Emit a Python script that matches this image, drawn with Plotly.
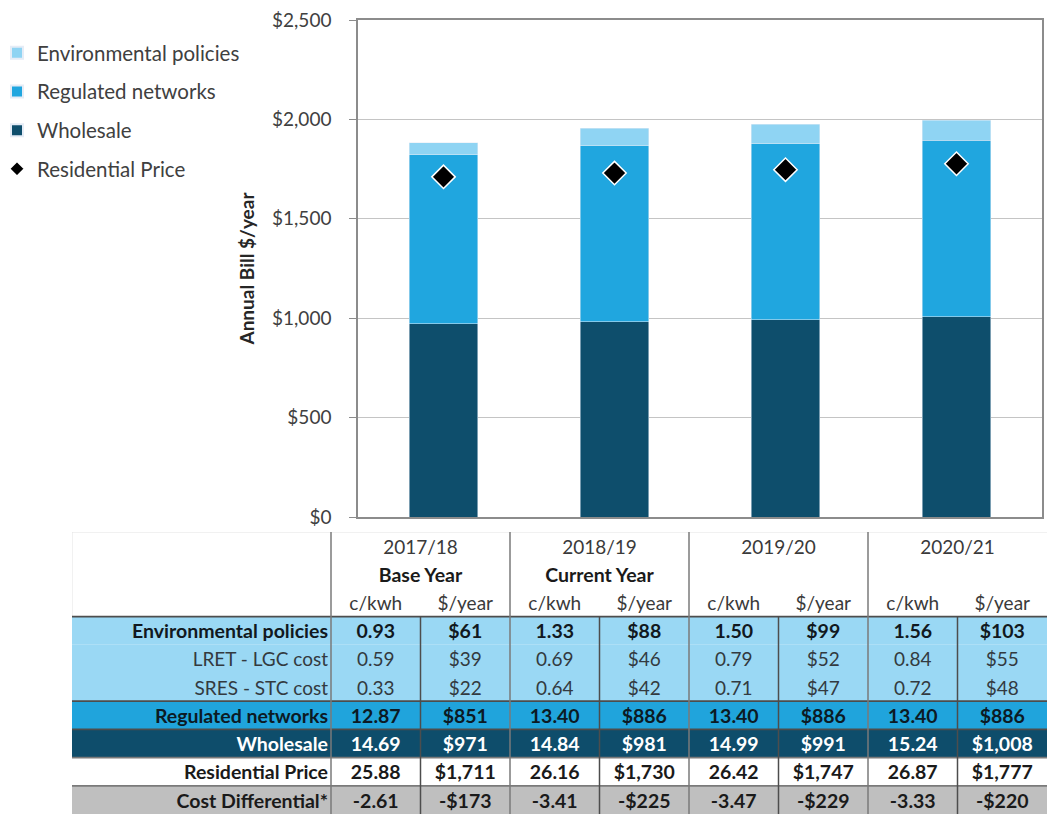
import plotly.graph_objects as go

# ---------------- data ----------------
years = ["2017/18", "2018/19", "2019/20", "2020/21"]
year_notes = ["Base Year", "Current Year", "", ""]
unit_labels = ["c/kwh", "$/year"]
row_labels = ["Environmental policies", "LRET - LGC cost", "SRES - STC cost",
              "Regulated networks", "Wholesale", "Residential Price", "Cost Differential*"]

env_ckwh = [0.93, 1.33, 1.50, 1.56]
env_year = [61, 88, 99, 103]
lret_ckwh = [0.59, 0.69, 0.79, 0.84]
lret_year = [39, 46, 52, 55]
sres_ckwh = [0.33, 0.64, 0.71, 0.72]
sres_year = [22, 42, 47, 48]
net_ckwh = [12.87, 13.40, 13.40, 13.40]
net_year = [851, 886, 886, 886]
whs_ckwh = [14.69, 14.84, 14.99, 15.24]
whs_year = [971, 981, 991, 1008]
res_ckwh = [25.88, 26.16, 26.42, 26.87]
res_year = [1711, 1730, 1747, 1777]
diff_ckwh = [-2.61, -3.41, -3.47, -3.33]
diff_year = [-173, -225, -229, -220]

table_rows = [
    (env_ckwh, env_year), (lret_ckwh, lret_year), (sres_ckwh, sres_year),
    (net_ckwh, net_year), (whs_ckwh, whs_year), (res_ckwh, res_year),
    (diff_ckwh, diff_year),
]

# ---------------- style ----------------
W, H = 1051, 814
FONT = "Lato"
C_ENV = "#8fd4f3"
C_NET = "#20a6df"
C_WHS = "#0e4e6c"
ROW_FILL = ["#9ad8f4", "#9ad8f4", "#9ad8f4", "#20a4dc", "#0e4d6b", None, "#bfbfbf"]
ROW_BOLD = [True, False, False, True, True, True, True]
ROW_COLOR = ["#111820", "#333a40", "#333a40", "#0c1a24", "#ffffff", "#1a1a1a", "#1a1a1a"]
LINE_DARK = "#4d4d4d"
LINE_GRAY = "#7a7a7a"
TB_FS_BOLD = 19.5
TB_FS_REG = 19
TXT_DY = 0.1  # small downward nudge of text inside a row

COL_W = [259] + [89.5] * 8
edges = [0]
for w in COL_W:
    edges.append(edges[-1] + w)
TOTAL_W = edges[-1]
N_HEAD = 3
N_ROWS = N_HEAD + len(row_labels)
ROW_H = 28.2

def money(v):
    return f"-${abs(v):,}" if v < 0 else f"${v:,}"

fig = go.Figure()

# ---------------- chart ----------------
fig.add_bar(x=years, y=whs_year, name="Wholesale", marker_color=C_WHS,
            width=0.4, legendrank=3, legendgroup="c", hoverinfo="skip")
fig.add_bar(x=years, y=net_year, name="Regulated networks", marker_color=C_NET,
            width=0.4, legendrank=2, legendgroup="b", hoverinfo="skip")
fig.add_bar(x=years, y=env_year, name="Environmental policies", marker_color=C_ENV,
            width=0.4, legendrank=1, legendgroup="a", hoverinfo="skip")
fig.add_scatter(x=years, y=res_year, mode="markers", name="Residential Price",
                marker=dict(symbol="diamond", size=18, color="black",
                            line=dict(color="white", width=1.5)),
                legendrank=4, legendgroup="d", hoverinfo="skip")

# ---------------- table ----------------
shapes = []
for r, fill in enumerate(ROW_FILL):
    if fill is None:
        continue
    shapes.append(dict(type="rect", xref="x2", yref="y2", x0=0, x1=TOTAL_W,
                       y0=N_HEAD + r, y1=N_HEAD + r + 1, fillcolor=fill,
                       line=dict(width=0), layer="below"))
# light outer border of header
shapes.append(dict(type="line", xref="x2", yref="y2", x0=0, x1=TOTAL_W, y0=0, y1=0,
                   line=dict(color="#e3e3e3", width=1)))
shapes.append(dict(type="line", xref="x2", yref="y2", x0=0, x1=0, y0=0, y1=N_HEAD,
                   line=dict(color="#e3e3e3", width=1)))
# horizontal separators
for yy, col in [(N_HEAD, LINE_DARK), (N_HEAD + 3, LINE_DARK), (N_HEAD + 4, LINE_DARK),
                (N_HEAD + 5, LINE_GRAY), (N_HEAD + 6, LINE_GRAY)]:
    shapes.append(dict(type="line", xref="x2", yref="y2", x0=0, x1=TOTAL_W, y0=yy, y1=yy,
                       line=dict(color=col, width=1.8)))
# vertical separators
for i in range(1, len(edges) - 1):
    x = edges[i]
    if (i - 1) % 2 == 0:  # label column edge / group edges
        shapes.append(dict(type="line", xref="x2", yref="y2", x0=x, x1=x, y0=0, y1=N_ROWS,
                           line=dict(color=LINE_GRAY, width=1.5)))
    else:  # sub-column divider
        shapes.append(dict(type="line", xref="x2", yref="y2", x0=x, x1=x, y0=N_HEAD, y1=N_ROWS,
                           line=dict(color=LINE_DARK, width=1.5)))

# header texts
hx, hy, ht = [], [], []
for g, yr in enumerate(years):
    cx = (edges[1 + 2 * g] + edges[3 + 2 * g]) / 2
    hx.append(cx); hy.append(0.5 + TXT_DY); ht.append(yr)
    for k in range(2):
        sx = (edges[1 + 2 * g + k] + edges[2 + 2 * g + k]) / 2
        hx.append(sx); hy.append(2.5 + TXT_DY); ht.append(unit_labels[k])
fig.add_scatter(x=hx, y=hy, text=ht, mode="text", xaxis="x2", yaxis="y2",
                textfont=dict(family=FONT, size=TB_FS_REG, color="#3a3a3a"),
                showlegend=False, hoverinfo="skip")
nx, ny, nt = [], [], []
for g, note in enumerate(year_notes):
    if note:
        cx = (edges[1 + 2 * g] + edges[3 + 2 * g]) / 2
        nx.append(cx); ny.append(1.5 + TXT_DY); nt.append(f"<b>{note}</b>")
fig.add_scatter(x=nx, y=ny, text=nt, mode="text", xaxis="x2", yaxis="y2",
                textfont=dict(family=FONT, size=TB_FS_BOLD, color="#1a1a1a"),
                showlegend=False, hoverinfo="skip")

# row labels and values (bold and regular split for sizes)
groups = {True: ([], [], [], [], [], [], [], []), False: ([], [], [], [], [], [], [], [])}
for r, label in enumerate(row_labels):
    yc = N_HEAD + r + 0.5 + TXT_DY
    b = ROW_BOLD[r]
    lx, ly, lt, lc, vx, vy, vt, vc = groups[b]
    lx.append(edges[1] - 3); ly.append(yc)
    lt.append(f"<b>{label}</b>" if b else label); lc.append(ROW_COLOR[r])
    ck, yv = table_rows[r]
    for g in range(len(years)):
        for k, txt in enumerate([f"{ck[g]:.2f}", money(yv[g])]):
            sx = (edges[1 + 2 * g + k] + edges[2 + 2 * g + k]) / 2
            vx.append(sx); vy.append(yc)
            vt.append(f"<b>{txt}</b>" if b else txt); vc.append(ROW_COLOR[r])
for b, (lx, ly, lt, lc, vx, vy, vt, vc) in groups.items():
    fs = TB_FS_BOLD if b else TB_FS_REG
    fig.add_scatter(x=lx, y=ly, text=lt, mode="text", textposition="middle left",
                    xaxis="x2", yaxis="y2",
                    textfont=dict(family=FONT, size=fs, color=lc),
                    showlegend=False, hoverinfo="skip")
    fig.add_scatter(x=vx, y=vy, text=vt, mode="text", textposition="middle center",
                    xaxis="x2", yaxis="y2",
                    textfont=dict(family=FONT, size=fs, color=vc),
                    showlegend=False, hoverinfo="skip")

# ---------------- layout ----------------
PX_L, PX_R, PX_T, PX_B = 358, 1042, 20, 517
TB_L = 72

fig.update_layout(
    width=W, height=H,
    margin=dict(l=0, r=0, t=0, b=0, autoexpand=False),
    paper_bgcolor="white", plot_bgcolor="white",
    barmode="stack",
    font=dict(family=FONT, color="#404040"),
    shapes=shapes,
    showlegend=True,
    legend=dict(x=-3 / W, y=1 - 33 / H, xanchor="left", yanchor="top",
                font=dict(family=FONT, size=20.5, color="#404040"),
                traceorder="grouped", tracegroupgap=9,
                itemsizing="constant", bgcolor="rgba(0,0,0,0)"),
    xaxis=dict(domain=[PX_L / W, PX_R / W], anchor="y",
               showticklabels=False, ticks="",
               showline=True, mirror=True, linecolor="#8c8c8c", linewidth=1.5,
               showgrid=False, fixedrange=True),
    yaxis=dict(domain=[1 - PX_B / H, 1 - PX_T / H], anchor="x",
               range=[0, 2500], dtick=500, tickprefix="$", tickformat=",",
               showline=True, mirror=True, linecolor="#8c8c8c", linewidth=1.5,
               showgrid=True, gridcolor="#c4c4c4", gridwidth=1,
               ticks="outside", ticklen=7, tickcolor="#8c8c8c",
               ticklabelstandoff=14,
               tickfont=dict(family=FONT, size=19, color="#404040"),
               title=dict(text="<b>Annual Bill $/year</b>", standoff=12,
                          font=dict(family=FONT, size=19, color="#262626")),
               automargin=False, zeroline=False, fixedrange=True),
    xaxis2=dict(domain=[TB_L / W, (TB_L + TOTAL_W) / W], anchor="y2",
                range=[0, TOTAL_W], visible=False, fixedrange=True),
    yaxis2=dict(domain=[0, (N_ROWS * ROW_H) / H], anchor="x2",
                range=[N_ROWS, 0], visible=False, fixedrange=True),
)

fig.write_html("out.html", config={"displayModeBar": False},
               post_script="document.body.style.margin='0';document.body.style.overflow='hidden';")
